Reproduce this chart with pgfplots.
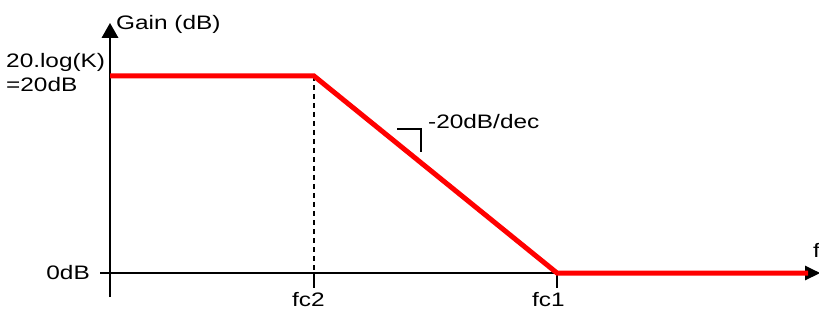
\documentclass[border=0pt]{standalone}
\usepackage{pgfplots}
\pgfplotsset{compat=1.18}
\usepackage{fontspec}
\setmainfont{Liberation Sans}[FakeStretch=1.25]
\usetikzlibrary{arrows.meta}
\begin{document}
\fontsize{19.5bp}{23bp}\selectfont
\begin{tikzpicture}
\begin{axis}[name=ax, scale only axis, x=1bp, y=9.85bp,
  xmin=-110, xmax=709, ymin=-3.858, ymax=27.716,
  axis lines=none, clip=false, ticks=none]
% axes
\draw[black, line width=2bp] (axis cs:0,-2.44) -- (axis cs:0,24.0);
\draw[black, line width=2bp] (axis cs:-10,0) -- (axis cs:697,0);
\fill[black] (axis cs:-8.5,23.86) -- (axis cs:8.5,23.86) -- (axis cs:0,25.38) -- cycle;
\fill[black] (axis cs:695,0.76) -- (axis cs:695,-0.76) -- (axis cs:710,0) -- cycle;
% ticks
\draw[black, line width=2bp] (axis cs:204,0) -- (axis cs:204,-1.52);
\draw[black, line width=2bp] (axis cs:447,0) -- (axis cs:447,-1.52);
% dashed
\draw[black, line width=2bp, dash pattern=on 5bp off 4bp] (axis cs:204,20) -- (axis cs:204,0);
% gain
\addplot[red, line width=5bp, line join=miter, mark=none] coordinates {(0,20) (204,20) (447,0) (698,0)};
% slope marker
\draw[black, line width=2bp] (axis cs:287,14.62) -- (axis cs:311,14.62) -- (axis cs:311,12.28);
% labels
\node[anchor=base west, inner sep=0pt] at (axis cs:6,24.77) {Gain (dB)};
\node[anchor=base west, inner sep=0pt] at (axis cs:-104,20.91) {20.log(K)};
\node[anchor=base west, inner sep=0pt] at (axis cs:-104,18.38) {=20dB};
\node[anchor=base east, inner sep=0pt] at (axis cs:-20,-0.61) {0dB};
\node[anchor=base west, inner sep=0pt] at (axis cs:182,-3.45) {fc2};
\node[anchor=base west, inner sep=0pt] at (axis cs:422,-3.45) {fc1};
\node[anchor=base west, inner sep=0pt] at (axis cs:318,14.72) {-20dB/dec};
\node[anchor=base west, inner sep=0pt] at (axis cs:703,1.62) {f};
\end{axis}
\pgfresetboundingbox
\path[use as bounding box] (ax.south west) rectangle (ax.north east);
\end{tikzpicture}
\end{document}
